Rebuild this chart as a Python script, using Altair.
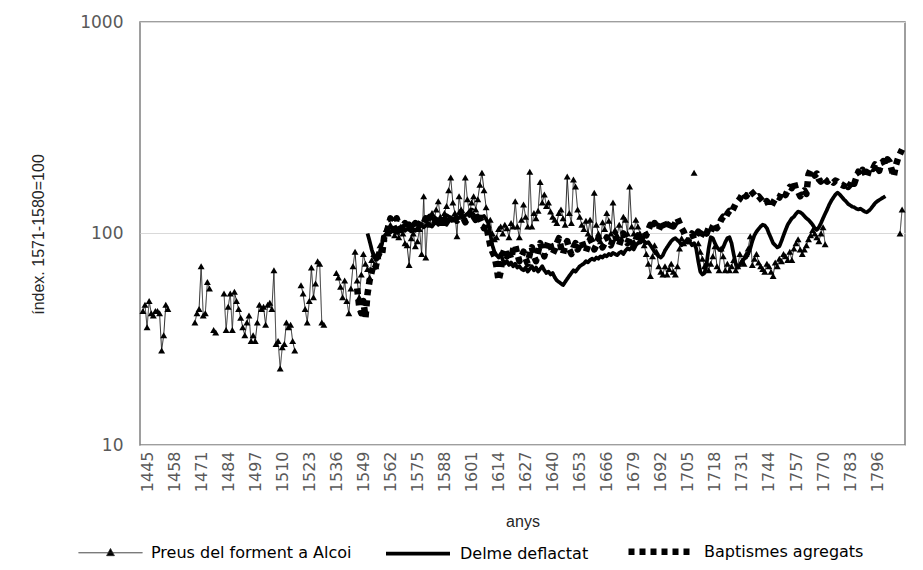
import altair as alt
import pandas as pd

# ---------------- data ----------------
SERIES = ["Preus del forment a Alcoi", "Delme deflactat", "Baptismes agregats"]

# Preus del forment a Alcoi: segments (start year, values)
preus_1443 = [43, 46, 36, 48, 42, 41, 43, 43, 42, 28, 33, 46, 44]
preus_1468 = [38, 42, 44, 70, 41, 42, 59, 55]
preus_1477 = [35, 34]
preus_1482 = [52, 35, 45, 52, 35, 53, 48, 44, 40, 36,
              33, 38, 41, 31, 33, 31, 38, 46, 44, 45,
              37, 46, 47, 44, 67, 30, 31, 23, 29, 30,
              38, 36, 37, 31, 28]
preus_1519 = [57, 52, 44, 38, 48, 69, 50, 58, 74, 72, 38, 37]
preus_1536 = [65, 62, 56, 50, 60, 48, 42, 55, 70, 82,
              60, 50, 64, 80, 72, 68, 62, 75, 80, 70,
              78, 88, 85, 95, 105, 100, 110, 104, 98, 102,
              96, 108, 100, 90, 88, 71, 95, 100, 87, 92,
              105, 80, 150, 77, 118, 110, 125, 115, 130, 142,
              120, 112, 125, 135, 160, 184, 140, 125, 97, 150,
              130, 120, 184, 145, 125, 140, 150, 130, 145, 170,
              194, 160, 133, 110, 116, 100, 94, 96, 105, 108,
              100, 110, 106, 96, 112, 108, 142, 108, 96, 116,
              137, 120, 108, 196, 108, 125, 118, 128, 175, 140,
              153, 135, 140, 127, 120, 116, 112, 125, 130, 118,
              110, 186, 125, 112, 180, 167, 130, 120, 110, 105,
              115, 100, 116, 95, 156, 110, 100, 92, 113, 105,
              125, 115, 100, 140, 104, 98, 110, 95, 120, 116,
              100, 167, 108, 100, 116, 108, 100, 95, 88, 80,
              72, 63, 78, 88, 82, 70, 66, 64, 70, 64,
              68, 72, 66, 64, 70, 85, 95, 90]
preus_1708 = [194]
preus_1710 = [90, 82, 76, 70, 73, 67, 72, 78, 87, 70,
              67, 85, 78, 67, 72, 67, 70, 75, 67, 70,
              80, 74, 72, 80, 85, 97, 71, 76, 80, 73,
              70, 68, 66, 72, 70, 66, 63, 73, 70, 76,
              74, 80, 78, 75, 82, 75, 85, 90, 94, 84,
              80, 84, 88, 94, 98, 104, 100, 96, 92, 100, 107, 89]
preus_1807 = [100, 130]

# Delme deflactat, 1551-1800
delme_1551 = [100, 92, 84, 78, 75, 76, 82, 90, 97, 100,
              102, 101, 104, 103, 105, 102, 104, 106, 103, 105,
              104, 107, 105, 103, 106, 108, 110, 107, 109, 112,
              110, 108, 111, 113, 110, 112, 115, 113, 110, 114,
              117, 115, 118, 116, 119, 121, 118, 122, 124, 121,
              125, 123, 120, 122, 118, 120, 121, 117, 112, 100,
              88, 82, 79, 77, 80, 75, 72, 74, 71, 73,
              70, 72, 69, 70, 68, 67, 69, 66, 68, 70,
              67, 69, 66, 68, 70, 67, 65, 66, 64, 65,
              62, 60, 59, 58, 57, 59, 61, 63, 65, 67,
              66, 68, 70, 71, 72, 74, 73, 75, 76, 75,
              77, 76, 78, 77, 79, 78, 80, 79, 81, 80,
              79, 81, 82, 80, 83, 85, 84, 86, 84, 88,
              90, 92, 93, 92, 90, 91, 88, 85, 82, 80,
              78, 77, 79, 83, 86, 89, 92, 94, 95, 93,
              91, 88, 90, 92, 94, 91, 88, 90, 85, 74,
              66, 64, 65, 72, 85, 96, 95, 90, 86, 84,
              83, 86, 91, 95, 96, 90, 80, 72, 69, 71,
              74, 76, 77, 80, 85, 92, 98, 102, 105, 108,
              110, 109, 106, 100, 95, 90, 88, 86, 87, 92,
              98, 104, 110, 114, 118, 120, 124, 127, 126, 124,
              121, 118, 116, 113, 110, 106, 104, 107, 112, 118,
              124, 130, 137, 143, 148, 153, 156, 153, 149, 145,
              142, 138, 136, 134, 133, 131, 130, 131, 129, 127,
              126, 128, 131, 135, 139, 142, 144, 146, 148, 150]

# Baptismes agregats, 1546-1808
bapt_1546 = [55, 45, 42, 48, 40, 52, 60, 66, 72, 70,
             78, 82, 80, 96, 100, 108, 118, 112, 105, 118,
             110, 104, 108, 112, 106, 110, 104, 108, 112, 105,
             110, 115, 112, 118, 114, 120, 116, 112, 118, 122,
             115, 110, 116, 120, 114, 118, 124, 120, 115, 121,
             126, 119, 113, 118, 124, 128, 120, 116, 122, 118,
             112, 106, 110, 98, 88, 82, 78, 70, 60, 66,
             80, 85, 78, 82, 76, 84, 88, 80, 74, 78,
             82, 76, 72, 80, 86, 78, 74, 82, 90, 84,
             78, 86, 92, 88, 80, 84, 90, 95, 86, 80,
             88, 92, 84, 80, 86, 90, 84, 88, 92, 86,
             82, 88, 94, 90, 84, 88, 95, 92, 86, 90,
             96, 92, 88, 94, 98, 92, 88, 95, 100, 94,
             90, 96, 92, 88, 94, 98, 92, 96, 102, 98,
             104, 110, 106, 112, 108, 104, 110, 115, 109, 104,
             110, 114, 108, 112, 118, 112, 106, 102, 96, 92,
             96, 100, 94, 98, 102, 96, 100, 104, 100, 106,
             102, 108, 112, 106, 110, 116, 120, 118, 124, 128,
             126, 132, 138, 142, 146, 152, 156, 150, 154, 160,
             156, 152, 148, 150, 146, 142, 138, 142, 136, 134,
             140, 146, 150, 148, 155, 158, 152, 160, 166, 164,
             176, 162, 158, 150, 156, 160, 154, 190, 200, 196,
             188, 192, 180, 176, 184, 180, 176, 180, 178, 174,
             178, 176, 172, 170, 168, 174, 166, 170, 178, 172,
             184, 196, 190, 200, 194, 184, 198, 206, 202, 212,
             208, 198, 214, 220, 210, 224, 218, 200, 186, 210,
             226, 238, 250]

x_ticks = list(range(1445, 1797, 13))

# ---------------- table ----------------
segments = [
    (SERIES[0], 1443, preus_1443), (SERIES[0], 1468, preus_1468),
    (SERIES[0], 1477, preus_1477), (SERIES[0], 1482, preus_1482),
    (SERIES[0], 1519, preus_1519), (SERIES[0], 1536, preus_1536),
    (SERIES[0], 1708, preus_1708), (SERIES[0], 1710, preus_1710),
    (SERIES[0], 1807, preus_1807),
    (SERIES[1], 1551, delme_1551),
    (SERIES[2], 1546, bapt_1546),
]
rows = []
for i, (name, start, vals) in enumerate(segments):
    for k, v in enumerate(vals):
        rows.append({"year": start + k, "value": v, "serie": name, "seg": f"s{i}"})
df = pd.DataFrame(rows)

FONT = "Liberation Sans"
NUMFONT = "DejaVu Sans"

SYM_EXPR = ("datum.value === 'Preus del forment a Alcoi' ? "
            "'M-1,0H1M0,-0.13L0.12,0.09H-0.12Z' : 'M-1,0H1'")

leg = alt.Legend(
    title=None, orient="none", legendX=-62, legendY=494, direction="horizontal",
    symbolSize=4096, symbolType={"expr": SYM_EXPR}, symbolFillColor="#000000",
    labelFont=NUMFONT, labelFontSize=16, labelColor="#000000",
    labelOffset=8, columnPadding=26, labelLimit=400,
)

x_axis = alt.Axis(values=x_ticks, format="d", labelAngle=270, labelFont=NUMFONT,
                  labelFontSize=16, labelColor="#595959", labelPadding=6,
                  labelFlush=False, labelOverlap=False, labelBound=False,
                  ticks=False, domain=False, grid=False,
                  title="anys", titleFont=FONT, titleFontSize=16,
                  titleFontWeight="normal", titleColor="#262626",
                  titleY=76, titleBaseline="middle")
y_axis = alt.Axis(values=[10, 100, 1000], format="d", labelFont=NUMFONT,
                  labelFontSize=17, labelColor="#595959", labelPadding=17,
                  labelFlush=False, labelOverlap=False, ticks=False, domain=False, grid=True,
                  gridColor="#d9d9d9", gridWidth=1,
                  title="índex. 1571-1580=100", titleFont=FONT, titleFontSize=16,
                  titleFontWeight="normal", titleColor="#262626",
                  titleX=-102, titleY=212, titleAngle=270,
                  titleAlign="center", titleBaseline="middle")

base = alt.Chart(df).encode(
    x=alt.X("year:Q", scale=alt.Scale(domain=[1441.6, 1809.4], nice=False, zero=False), axis=x_axis),
    y=alt.Y("value:Q", scale=alt.Scale(type="log", domain=[10, 1000], nice=False), axis=y_axis),
)

lines = base.mark_line(strokeCap="butt", strokeJoin="round").encode(
    color=alt.Color("serie:N", scale=alt.Scale(domain=SERIES, range=["#262626", "#000000", "#000000"]), legend=leg),
    strokeWidth=alt.StrokeWidth("serie:N", scale=alt.Scale(domain=SERIES, range=[1, 6.5, 3.2]), legend=leg),
    strokeDash=alt.StrokeDash("serie:N", scale=alt.Scale(domain=SERIES, range=[[1, 0], [1, 0], [6, 5]]), legend=leg),
    detail="seg:N",
)

points = base.transform_filter(alt.datum.serie == SERIES[0]).mark_point(
    shape="triangle-up", filled=True, size=48, color="#000000", opacity=1
)

chart = alt.layer(lines, points).properties(
    width=765, height=423,
    autosize=alt.AutoSizeParams(type="none"),
    padding={"left": 132, "top": 14, "right": 10, "bottom": 117},
    background="white",
).configure_view(stroke="#7f7f7f", strokeWidth=1.5).configure_axisX(labelOverlap=False)

chart.save("out.html", embed_options={"renderer": "svg", "actions": False})
